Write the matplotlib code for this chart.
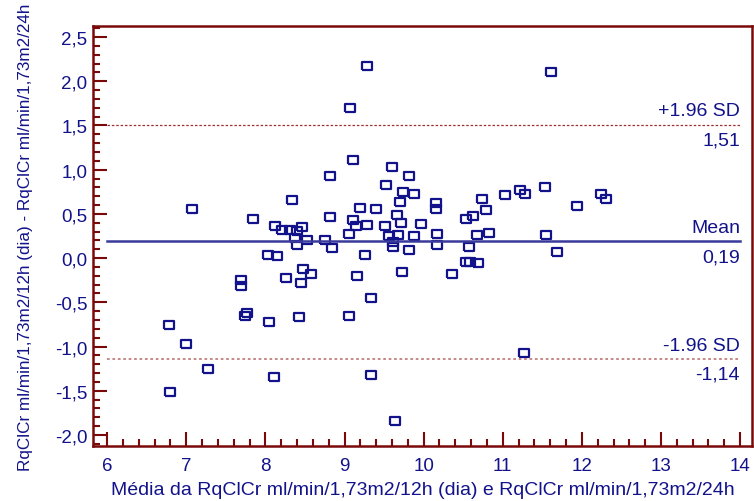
import matplotlib
matplotlib.use("Agg")
import matplotlib.pyplot as plt
from matplotlib.ticker import MultipleLocator, FuncFormatter

# media das duas medidas (eixo x) e diferenca (eixo y)
media = [6.78, 6.80, 7.00, 7.07, 7.27, 7.69, 7.69, 7.74, 7.77, 7.84,
         8.03, 8.05, 8.11, 8.12, 8.15, 8.21, 8.26, 8.31, 8.34, 8.37,
         8.40, 8.40, 8.42, 8.45, 8.46, 8.47, 8.52, 8.57, 8.75, 8.81,
         8.82, 8.84, 9.06, 9.06, 9.07, 9.11, 9.11, 9.15, 9.16, 9.19,
         9.26, 9.28, 9.29, 9.33, 9.34, 9.40, 9.51, 9.52, 9.56, 9.60,
         9.61, 9.61, 9.64, 9.66, 9.68, 9.70, 9.71, 9.72, 9.74, 9.81,
         9.81, 9.88, 9.88, 9.97, 10.16, 10.16, 10.17, 10.17, 10.36, 10.53,
         10.54, 10.57, 10.58, 10.62, 10.68, 10.69, 10.74, 10.79, 10.83, 11.03,
         11.22, 11.27, 11.28, 11.54, 11.55, 11.61, 11.68, 11.94, 12.24, 12.31]
diferenca = [-0.76, -1.52, -0.97, 0.55, -1.25, -0.25, -0.31, -0.66, -0.62, 0.44,
             0.04, -0.72, -1.34, 0.36, 0.02, 0.32, -0.23, 0.32, 0.66, 0.23,
             0.31, 0.15, -0.67, -0.28, 0.35, -0.12, 0.20, -0.18, 0.20, 0.46,
             0.93, 0.11, 0.27, -0.65, 1.70, 1.11, 0.43, 0.36, -0.20, 0.57,
             0.04, 2.17, 0.37, -0.45, -1.32, 0.56, 0.36, 0.83, 0.25, 1.03,
             0.18, 0.12, -1.84, 0.49, 0.26, 0.63, 0.40, -0.16, 0.75, 0.93,
             0.09, 0.73, 0.25, 0.39, 0.62, 0.55, 0.27, 0.15, -0.18, -0.04,
             0.44, 0.13, -0.04, 0.48, 0.26, -0.06, 0.67, 0.54, 0.28, 0.71,
             0.77, -1.07, 0.73, 0.80, 0.26, 2.11, 0.07, 0.59, 0.72, 0.67]

media_dif = 0.19
lim_sup = 1.51
lim_inf = -1.14

azul = "#12128a"
vinho = "#7a0a0a"

plt.rcParams['font.family'] = ['Liberation Sans', 'DejaVu Sans']

fig = plt.figure(figsize=(7.54, 5.02), dpi=100)
ax = fig.add_axes([0.1233, 0.1096, 0.874, 0.8366])

# marcador retangular vazado
ret = [(-1, -0.8), (1, -0.8), (1, 0.8), (-1, 0.8), (-1, -0.8)]
ax.plot(media, diferenca, linestyle="none", marker=ret, markersize=6.5,
        markerfacecolor="none", markeredgecolor=azul, markeredgewidth=1.6)

ax.plot([6, 14], [media_dif, media_dif], color="#3a3a9c", lw=1.8)
ax.plot([6, 14], [lim_sup, lim_sup], color="#a03030", lw=0.9, ls=(0, (2, 1.5)))
ax.plot([6, 14], [lim_inf, lim_inf], color="#c08080", lw=1.3, ls=(0, (1.5, 1.5)))

def rotulo(y, cima, baixo):
    ax.text(14, y + 0.06, cima, ha="right", va="bottom", color=azul, fontsize=14)
    ax.text(14, y - 0.08, baixo, ha="right", va="top", color=azul, fontsize=14)

rotulo(lim_sup, "+1.96 SD", "1,51")
rotulo(media_dif, "Mean", "0,19")
rotulo(lim_inf, "-1.96 SD", "-1,14")

ax.set_xlim(5.82, 14.15)
ax.set_ylim(-2.125, 2.625)
ax.xaxis.set_major_locator(MultipleLocator(1))
ax.xaxis.set_minor_locator(MultipleLocator(0.2))
ax.yaxis.set_major_locator(MultipleLocator(0.5))
ax.yaxis.set_minor_locator(MultipleLocator(0.1))
ax.yaxis.set_major_formatter(FuncFormatter(lambda v, p: f"{v:.1f}".replace(".", ",")))

for s in ax.spines.values():
    s.set_color(vinho)
    s.set_linewidth(1.8)

ax.tick_params(which="both", direction="in", color=vinho, width=1.5,
               labelcolor=azul, labelsize=13.5)
ax.tick_params(which="major", length=10)
ax.tick_params(which="minor", length=5)
ax.tick_params(axis="x", pad=8)
ax.tick_params(axis="y", pad=4)

ax.set_xlabel("Média da RqClCr ml/min/1,73m2/12h (dia) e RqClCr ml/min/1,73m2/24h",
              color=azul, fontsize=14, labelpad=5)
ax.set_ylabel("RqClCr ml/min/1,73m2/12h (dia) - RqClCr ml/min/1,73m2/24h",
              color=azul, fontsize=12.3, labelpad=16)

fig.savefig("out.png", dpi=100)
